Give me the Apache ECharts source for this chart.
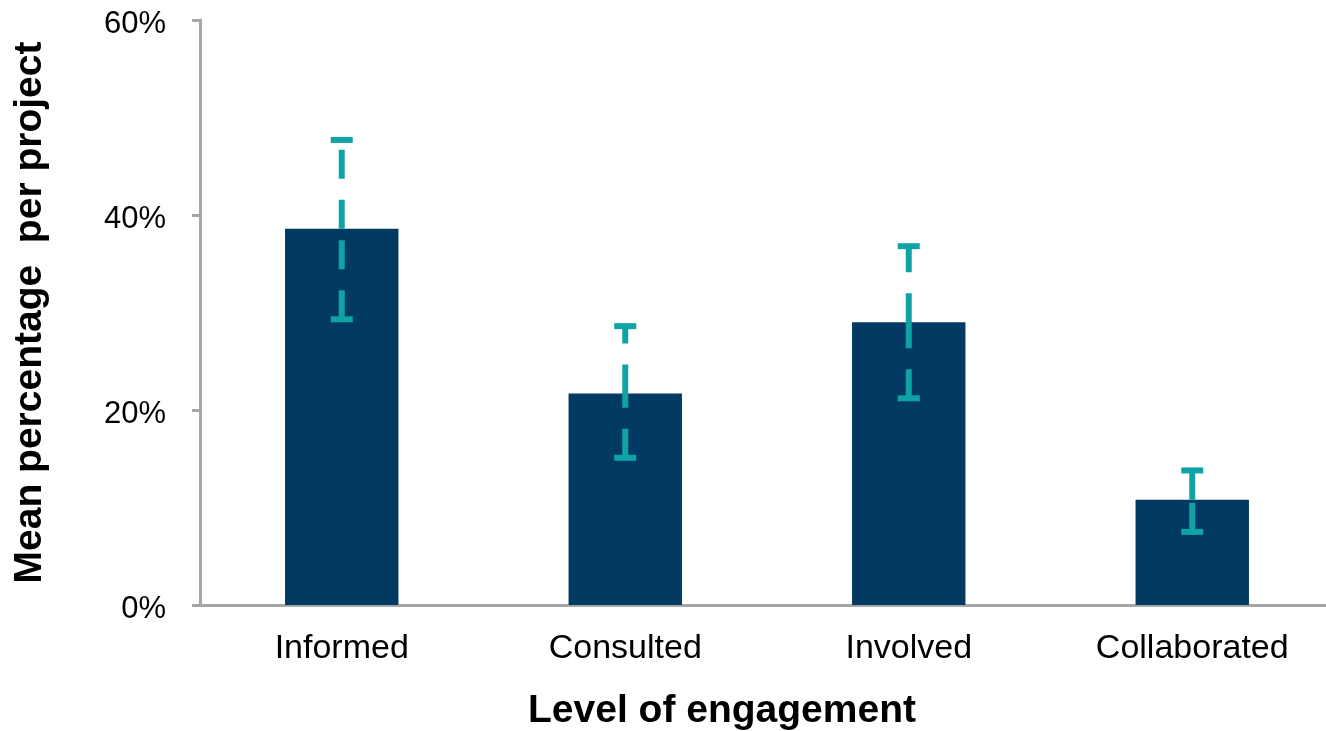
<!DOCTYPE html>
<html>
<head>
<meta charset="utf-8">
<script src="https://cdn.jsdelivr.net/npm/echarts@6/dist/echarts.min.js"></script>
<style>
  html, body { margin: 0; padding: 0; background: #fff; }
  #chart { width: 1326px; height: 731px; }
</style>
</head>
<body>
<div id="chart"></div>
<script>
// Chart data (percent)
const categories = ['Informed', 'Consulted', 'Involved', 'Collaborated'];
const meanValues = [38.6, 21.7, 29.0, 10.8];
const errorHigh = [47.7, 28.6, 36.8, 13.8];
const errorLow = [29.3, 15.1, 21.2, 7.5];
const yTicks = [0, 20, 40, 60];

const FONT = '"Liberation Sans", Arial, sans-serif';
const AXIS_GRAY = '#A6A6A6';
const BAR_COLOR = '#033A63';
const ERR_COLOR = '#0FA3A5';

// Error bar data rows: [index, low, mean, high]
const errorData = categories.map((c, i) => [i, errorLow[i], meanValues[i], errorHigh[i]]);

// Draws one error bar: two dashed halves, each starting from its lower end, plus caps
function renderErrorBar(params, api) {
    const idx = api.value(0);
    const low = api.coord([idx, api.value(1)]);
    const mid = api.coord([idx, api.value(2)]);
    const high = api.coord([idx, api.value(3)]);
    const capHalf = 11;
    const dashStyle = { stroke: ERR_COLOR, lineWidth: 6, lineDash: [29, 21] };
    const capStyle = { stroke: ERR_COLOR, lineWidth: 6 };
    return {
        type: 'group',
        children: [
            { type: 'line', shape: { x1: low[0], y1: low[1], x2: mid[0], y2: mid[1] }, style: dashStyle },
            { type: 'line', shape: { x1: mid[0], y1: mid[1], x2: high[0], y2: high[1] }, style: dashStyle },
            { type: 'line', shape: { x1: high[0] - capHalf, y1: high[1], x2: high[0] + capHalf, y2: high[1] }, style: capStyle },
            { type: 'line', shape: { x1: low[0] - capHalf, y1: low[1], x2: low[0] + capHalf, y2: low[1] }, style: capStyle }
        ]
    };
}

const chart = echarts.init(document.getElementById('chart'));

chart.setOption({
    animation: false,
    backgroundColor: '#fff',
    grid: {
        left: 200,
        top: 20,
        width: 1134,
        height: 585,
        outerBoundsMode: 'none'
    },
    xAxis: {
        type: 'category',
        data: categories,
        name: 'Level of engagement',
        nameLocation: 'middle',
        nameGap: 87,
        nameTextStyle: {
            fontFamily: FONT,
            fontSize: 39,
            fontWeight: 'bold',
            color: '#000',
            padding: [0, 90, 0, 0]
        },
        axisLine: { lineStyle: { color: AXIS_GRAY, width: 3 } },
        axisTick: { length: 8, lineStyle: { color: AXIS_GRAY, width: 3 } },
        axisLabel: { fontFamily: FONT, fontSize: 34, color: '#000', margin: 27 }
    },
    yAxis: {
        type: 'value',
        min: yTicks[0],
        max: yTicks[yTicks.length - 1],
        interval: 20,
        name: 'Mean percentage  per project',
        nameLocation: 'middle',
        nameGap: 150,
        nameTextStyle: {
            fontFamily: FONT,
            fontSize: 39,
            fontWeight: 'bold',
            color: '#000'
        },
        splitLine: { show: false },
        axisLine: { show: true, lineStyle: { color: AXIS_GRAY, width: 3 } },
        axisTick: { show: true, length: 8, lineStyle: { color: AXIS_GRAY, width: 3 } },
        axisLabel: {
            fontFamily: FONT,
            fontSize: 31,
            color: '#000',
            margin: 34,
            verticalAlign: 'top',
            lineHeight: 8,
            formatter: '{value}%'
        }
    },
    series: [
        {
            type: 'bar',
            data: meanValues,
            barWidth: '40%',
            itemStyle: { color: BAR_COLOR }
        },
        {
            type: 'custom',
            data: errorData,
            renderItem: renderErrorBar,
            encode: { x: 0, y: [1, 2, 3] },
            z: 10
        }
    ]
});
</script>
</body>
</html>
